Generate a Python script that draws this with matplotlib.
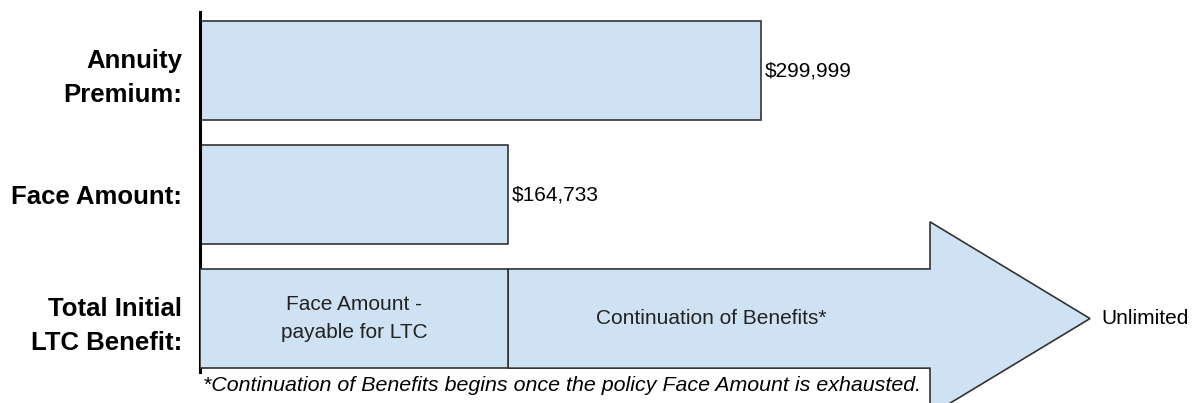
import matplotlib
matplotlib.use("Agg")
import matplotlib.pyplot as plt
from matplotlib.patches import Polygon

plt.rcParams['font.family'] = ['Liberation Sans', 'DejaVu Sans']

# Data
row_labels = ["Annuity\nPremium:", "Face Amount:", "Total Initial\nLTC Benefit:"]
annuity_premium = 299999
face_amount = 164733
bar_values = [annuity_premium, face_amount]
inner_left_text = "Face Amount -\npayable for LTC"
inner_right_text = "Continuation of Benefits*"
end_text = "Unlimited"
footnote = "*Continuation of Benefits begins once the policy Face Amount is exhausted."

fill = "#cfe2f3"
edge = "#333333"

fig = plt.figure(figsize=(11.93, 4.03), dpi=100)
ax = fig.add_axes([200 / 1193, 0, 993 / 1193, 1])

xmax = annuity_premium * 993 / 561
ax.set_xlim(0, xmax)
ax.set_ylim(2.681, -0.569)

# Bars for premium and face amount
bars = ax.barh([0, 1], bar_values, height=0.8, color=fill, edgecolor=edge, linewidth=1.2)
ax.bar_label(bars, labels=["${:,.0f}".format(v) for v in bar_values], padding=3, fontsize=15)

# Third row: face amount block + continuation arrow
ax.barh([2], [face_amount], height=0.8, color=fill, edgecolor=edge, linewidth=1.2, zorder=3)
head_start = xmax * 730 / 993
tip = xmax * 890 / 993
shaft_h = 0.4
head_h = 0.78
arrow = Polygon([(face_amount, 2 - shaft_h), (head_start, 2 - shaft_h), (head_start, 2 - head_h),
                 (tip, 2), (head_start, 2 + head_h), (head_start, 2 + shaft_h),
                 (face_amount, 2 + shaft_h)], closed=True, facecolor=fill, edgecolor=edge,
                linewidth=1.2, clip_on=False, zorder=2)
ax.add_patch(arrow)

ax.text(face_amount / 2, 2, inner_left_text, ha='center', va='center', fontsize=15, color='#222222',
        linespacing=1.55, zorder=4)
ax.text((face_amount + head_start) / 2 - xmax * 8 / 993, 2, inner_right_text, ha='center', va='center',
        fontsize=15, color='#222222', zorder=4)
ax.annotate(end_text, (tip, 2), xytext=(8, 0), textcoords='offset points', ha='left', va='center',
            fontsize=15, annotation_clip=False)
ax.text(xmax * 3 / 993, 2.54, footnote, ha='left', va='center', fontsize=15.4, style='italic', zorder=5)

# Row labels on the y axis
ax.set_yticks([0, 1, 2], row_labels, fontsize=18.5, fontweight='bold')
for lbl in ax.get_yticklabels():
    lbl.set_linespacing(1.5)
ax.tick_params(axis='y', length=0, pad=13)
ax.set_xticks([])
for side in ['top', 'right', 'bottom']:
    ax.spines[side].set_visible(False)
ax.spines['left'].set_linewidth(2.2)
ax.spines['left'].set_bounds(-0.472, 2.431)
ax.patch.set_visible(False)

fig.savefig("out.png", dpi=100)
